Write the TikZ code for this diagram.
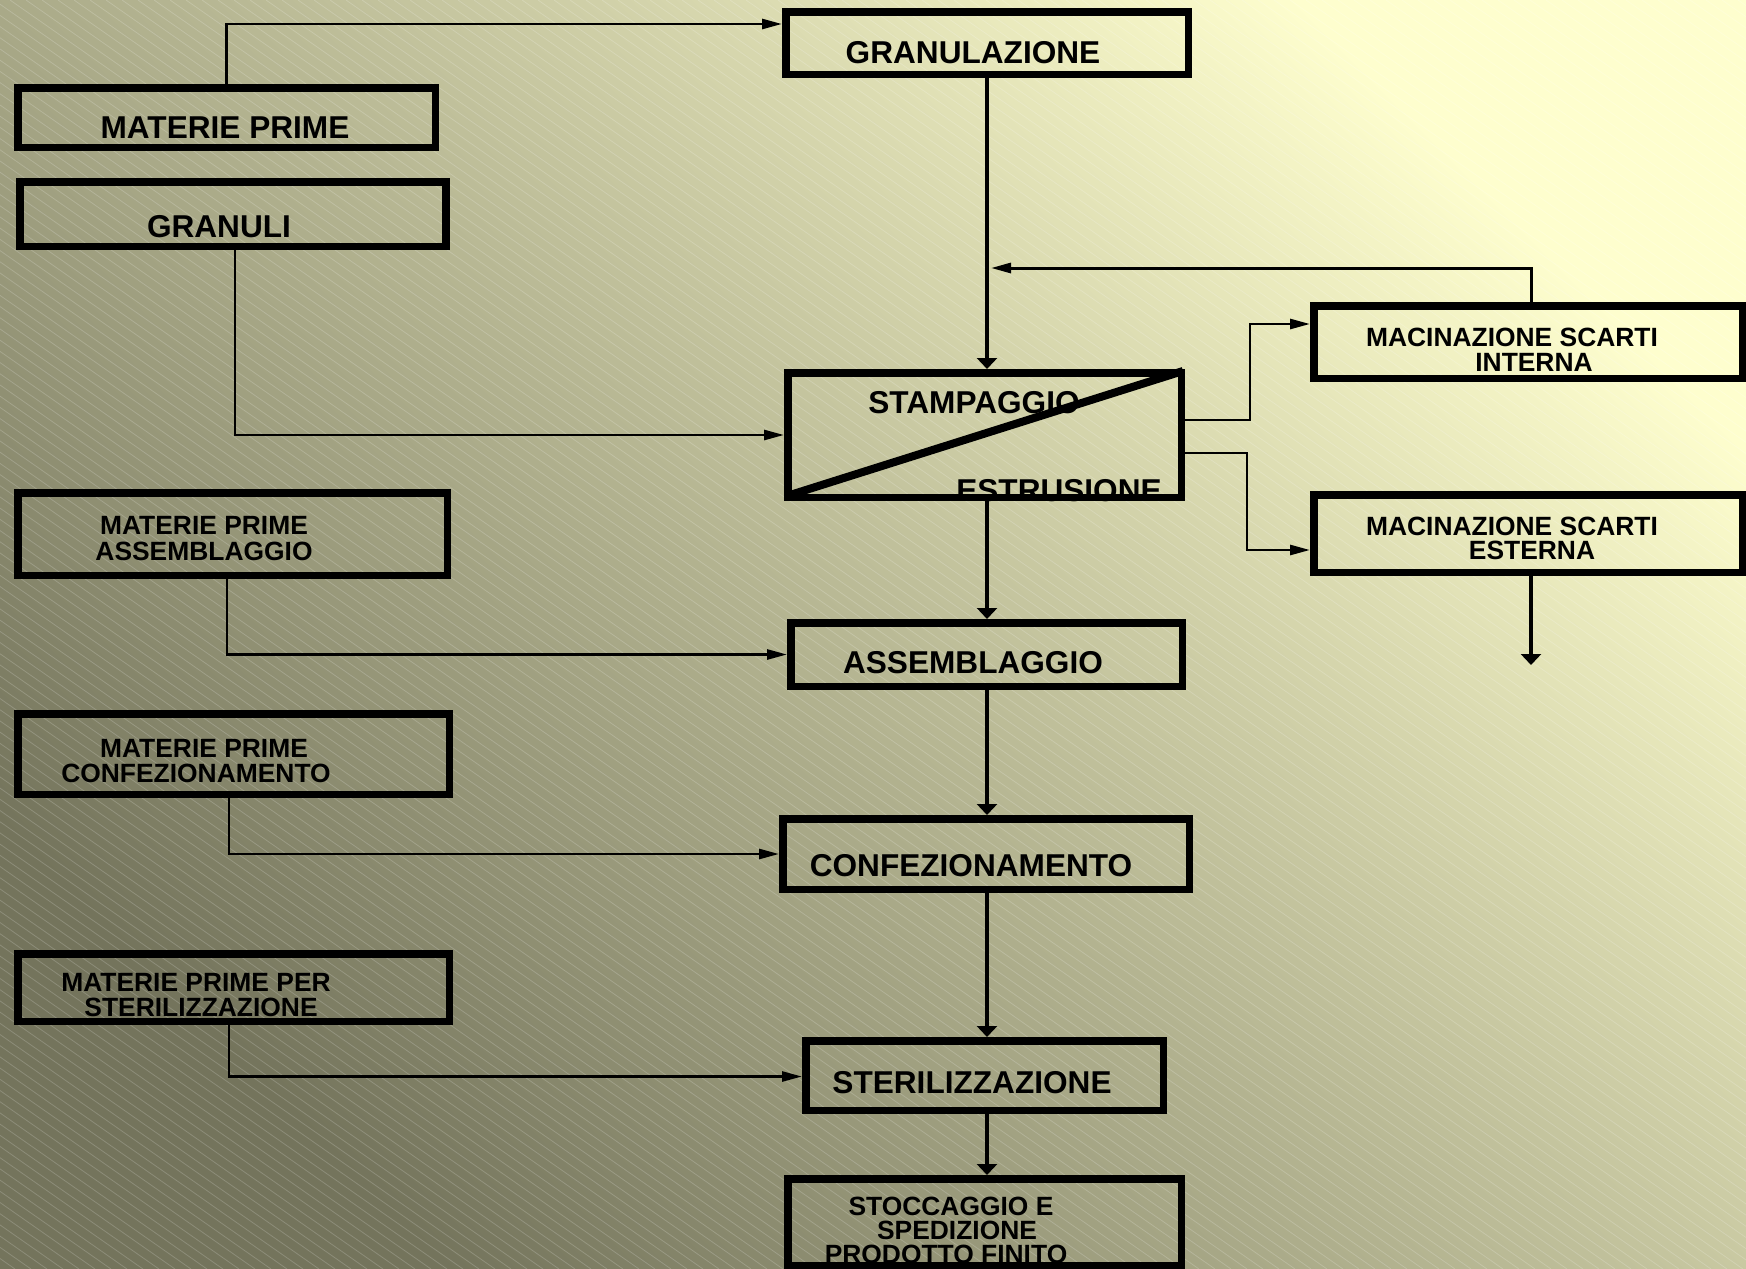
\documentclass[tikz,border=0pt]{standalone}
\usepackage{fontspec}
\setmainfont{Liberation Sans}
\usetikzlibrary{arrows.meta}
\definecolor{bgdark}{RGB}{116,116,92}
\definecolor{bglight}{RGB}{254,254,206}
\begin{document}
\begin{tikzpicture}[x=1pt,y=-1pt,
  box/.style={draw=black, line width=7.5pt, rectangle, inner sep=0pt},
  big/.style={font=\fontsize{31.6}{33}\selectfont\bfseries, anchor=base, inner sep=0pt},
  small/.style={font=\fontsize{26.4}{28}\selectfont\bfseries, anchor=base, inner sep=0pt},
  side/.style={line width=2.7pt, draw=black},
  flow/.style={line width=3.6pt, draw=black},
  htip/.style={-{Triangle[length=20pt,width=10pt]}},
  vtip/.style={-{Triangle[length=11pt,width=20pt]}},
  stripe/.style={white, opacity=0.18, line width=0.8pt}
]
\useasboundingbox (0,0) rectangle (1746,1269);
% background
\shade[top color=bglight, bottom color=bgdark, shading angle=-45] (0,0) rectangle (1746,1269);
\begin{scope}
  \clip (0,0) rectangle (1746,1269);
  \foreach \i in {-1830,-1814,...,1750} \draw[stripe] (\i,0) -- ++(1813,1269);
\end{scope}

% boxes
\node[box, minimum width=417.5pt, minimum height=59.5pt] (mp)  at (226.5,117.5) {};
\node[box, minimum width=426pt,   minimum height=64.5pt] (gr)  at (233,214) {};
\node[box, minimum width=402.5pt, minimum height=62.5pt] (gz)  at (987,43) {};
\node[box, minimum width=393.5pt, minimum height=124.5pt] (st) at (984.5,435) {};
\node[box, minimum width=429.5pt, minimum height=82.5pt] (mpa) at (232.5,534) {};
\node[box, minimum width=431.5pt, minimum height=80.5pt] (mpc) at (233.5,754) {};
\node[box, minimum width=431.5pt, minimum height=67.5pt] (mps) at (233.5,987.5) {};
\node[box, minimum width=391.5pt, minimum height=63.5pt] (as)  at (986.5,654.5) {};
\node[box, minimum width=406.5pt, minimum height=70.5pt] (cf)  at (986,854) {};
\node[box, minimum width=357.5pt, minimum height=69.5pt] (sz)  at (984.5,1075.5) {};
\node[box, minimum width=393.5pt, minimum height=86.5pt] (sc)  at (984.5,1222) {};
\node[box, minimum width=428.5pt, minimum height=72.5pt] (mi)  at (1528,342) {};
\node[box, minimum width=428.5pt, minimum height=77.5pt] (me)  at (1528,533.5) {};

% diagonal split of STAMPAGGIO / ESTRUSIONE
\draw[line width=8pt] ([xshift=6pt,yshift=6pt]st.south west) -- ([xshift=-2pt,yshift=-2pt]st.north east);

% coordinates for free ends
\coordinate (fb) at (991,268);
\coordinate (meout) at (1531,665);

% connectors
\draw[side, htip] (mp.north) |- ([yshift=19pt]gz.west);
\draw[flow, vtip] (gz.south) -- (gz.south |- st.north);
\draw[side, htip] ([xshift=2pt]gr.south) |- (st.west);
\draw[flow, vtip] (gz.south |- st.south) -- (gz.south |- as.north);
\draw[side, htip] ([xshift=-5.5pt]mpa.south) |- (as.west);
\draw[flow, vtip] (gz.south |- as.south) -- (gz.south |- cf.north);
\draw[side, htip] ([xshift=-4.5pt]mpc.south) |- (cf.west);
\draw[flow, vtip] (gz.south |- cf.south) -- (gz.south |- sz.north);
\draw[side, htip] ([xshift=-4.5pt]mps.south) |- ([yshift=-1pt]sz.west);
\draw[flow, vtip] (gz.south |- sz.south) -- (gz.south |- sc.north);
\draw[side, htip] ([yshift=15pt]st.east) -- ++(65,0) |- ([yshift=18pt]mi.west);
\draw[side, htip] ([yshift=-18pt]st.east) -- ++(62,0) |- ([yshift=-16.5pt]me.west);
\draw[side, line width=3pt, htip] ([xshift=3pt]mi.north) |- (fb);
\draw[flow, vtip] ([xshift=3pt]me.south) -- (meout);

% texts
\node[big] (tmp) at (225,138) {MATERIE PRIME};
\node[big] (tgr) at (219,237) {GRANULI};
\node[big] (tgz) at (973,63) {GRANULAZIONE};
\node[big] (tst1) at (974,413) {STAMPAGGIO};
\node[big] (tst2) at (1059,501) {ESTRUSIONE};
\node[big] (tas) at (973,673) {ASSEMBLAGGIO};
\node[big] (tcf) at (971,876) {CONFEZIONAMENTO};
\node[big] (tsz) at (972,1093) {STERILIZZAZIONE};
\node[small] (tsc1) at (951,1215) {STOCCAGGIO E};
\node[small] (tsc2) at (957,1239) {SPEDIZIONE};
\node[small] (tsc3) at (946,1263) {PRODOTTO FINITO};
\node[small] (tmpa1) at (204,534) {MATERIE PRIME};
\node[small] (tmpa2) at (204,560) {ASSEMBLAGGIO};
\node[small] (tmpc1) at (204,757) {MATERIE PRIME};
\node[small] (tmpc2) at (196,782) {CONFEZIONAMENTO};
\node[small] (tmps1) at (196,991) {MATERIE PRIME PER};
\node[small] (tmps2) at (201,1016) {STERILIZZAZIONE};
\node[small] (tmi1) at (1512,346) {MACINAZIONE SCARTI};
\node[small] (tmi2) at (1534,371) {INTERNA};
\node[small] (tme1) at (1512,535) {MACINAZIONE SCARTI};
\node[small] (tme2) at (1532,559) {ESTERNA};
\end{tikzpicture}
\end{document}
